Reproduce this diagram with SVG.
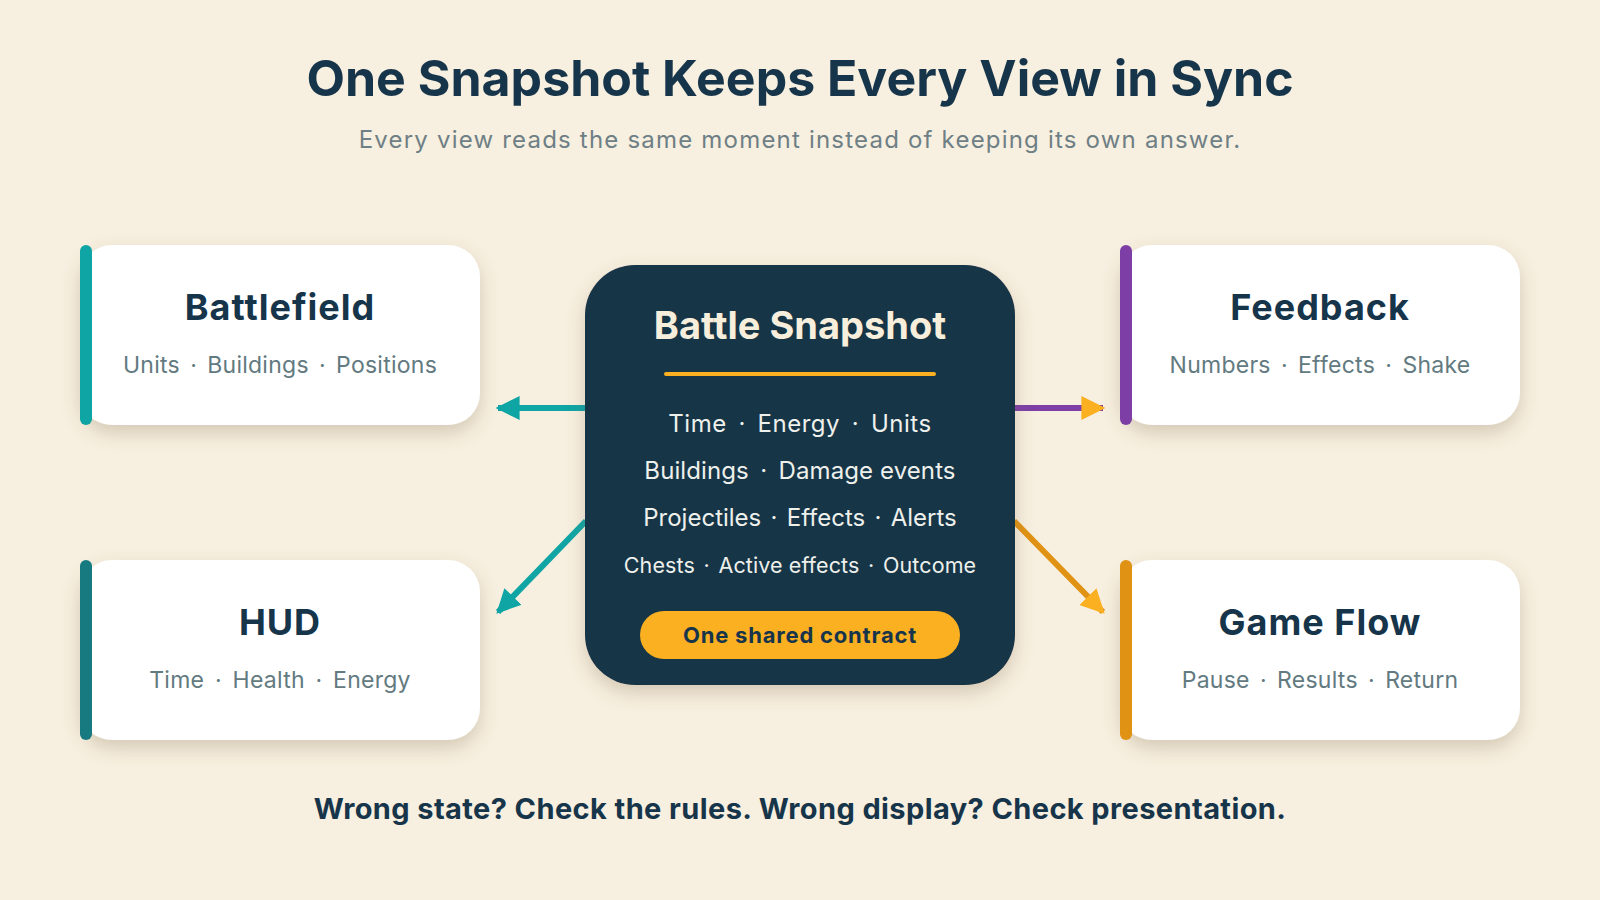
<svg xmlns="http://www.w3.org/2000/svg" width="1600" height="900" viewBox="0 0 1600 900">
<defs>
<style>
.t{font-family:Inter,"Noto Sans","Liberation Sans",sans-serif;}
.title{font-size:50px;font-weight:700;fill:#17354a;text-anchor:middle;}
.sub{font-size:24px;fill:#6e7f86;text-anchor:middle;letter-spacing:1.2px;}
.card{fill:#ffffff;}
.ct{font-size:36px;font-weight:700;fill:#17354a;text-anchor:middle;letter-spacing:1px;}
.cs{font-size:23px;fill:#627a80;text-anchor:middle;letter-spacing:0.25px;}
.mt{font-size:38px;font-weight:700;fill:#f7eedc;text-anchor:middle;}
.ml{font-size:24px;fill:#eef0ec;text-anchor:middle;}
.ml2{font-size:21.5px;fill:#eef0ec;text-anchor:middle;letter-spacing:0.1px;}
.pill{font-size:22px;font-weight:700;fill:#17354a;text-anchor:middle;letter-spacing:0.8px;}
.foot{font-size:29px;font-weight:700;fill:#17354a;text-anchor:middle;letter-spacing:0.4px;}
.con{fill:none;stroke-width:6;}
</style>
<filter id="sh" x="-20%" y="-20%" width="140%" height="150%">
<feDropShadow dx="0" dy="8" stdDeviation="9" flood-color="#7a6a4a" flood-opacity="0.28"/>
</filter>
<marker id="aT" viewBox="0 0 10 10" refX="9" refY="5" markerWidth="4" markerHeight="4" orient="auto" markerUnits="strokeWidth">
<path d="M0,0 L10,5 L0,10 z" fill="#0fa5a5"/>
</marker>
<marker id="aY" viewBox="0 0 10 10" refX="9" refY="5" markerWidth="4" markerHeight="4" orient="auto" markerUnits="strokeWidth">
<path d="M0,0 L10,5 L0,10 z" fill="#fbb022"/>
</marker>
</defs>
<rect width="1600" height="900" fill="#f7efdf"/>
<g id="header" class="t">
<text class="title" x="800" y="96">One Snapshot Keeps Every View in Sync</text>
<text class="sub" x="800" y="148">Every view reads the same moment instead of keeping its own answer.</text>
</g>
<g id="connectors">
<line class="con" x1="586" y1="408" x2="498" y2="408" stroke="#0fa5a5" marker-end="url(#aT)"/>
<line class="con" x1="586" y1="521" x2="498" y2="612" stroke="#0fa5a5" marker-end="url(#aT)"/>
<line class="con" x1="1014" y1="408" x2="1103" y2="408" stroke="#7d3fa6" marker-end="url(#aY)"/>
<line class="con" x1="1014" y1="521" x2="1103" y2="612" stroke="#e09214" marker-end="url(#aY)"/>
</g>
<g id="battlefield" class="t">
<rect class="card" x="80" y="245" width="400" height="180" rx="32" filter="url(#sh)"/>
<rect x="80" y="245" width="12" height="180" rx="6" fill="#0fa5a5"/>
<text class="ct" x="280" y="320">Battlefield</text>
<text class="cs" x="280" y="373">Units <tspan dx="3.5">·</tspan><tspan dx="3.5"> Buildings </tspan><tspan dx="3.5">·</tspan><tspan dx="3.5"> Positions</tspan></text>
</g>
<g id="hud" class="t">
<rect class="card" x="80" y="560" width="400" height="180" rx="32" filter="url(#sh)"/>
<rect x="80" y="560" width="12" height="180" rx="6" fill="#167a80"/>
<text class="ct" x="280" y="635">HUD</text>
<text class="cs" x="280" y="688">Time <tspan dx="4">·</tspan><tspan dx="4"> Health </tspan><tspan dx="4">·</tspan><tspan dx="4"> Energy</tspan></text>
</g>
<g id="feedback" class="t">
<rect class="card" x="1120" y="245" width="400" height="180" rx="32" filter="url(#sh)"/>
<rect x="1120" y="245" width="12" height="180" rx="6" fill="#7d3fa6"/>
<text class="ct" x="1320" y="320">Feedback</text>
<text class="cs" x="1320" y="373">Numbers <tspan dx="3.5">·</tspan><tspan dx="3.5"> Effects </tspan><tspan dx="3.5">·</tspan><tspan dx="3.5"> Shake</tspan></text>
</g>
<g id="gameflow" class="t">
<rect class="card" x="1120" y="560" width="400" height="180" rx="32" filter="url(#sh)"/>
<rect x="1120" y="560" width="12" height="180" rx="6" fill="#e09214"/>
<text class="ct" x="1320" y="635">Game Flow</text>
<text class="cs" x="1320" y="688">Pause <tspan dx="3.5">·</tspan><tspan dx="3.5"> Results </tspan><tspan dx="3.5">·</tspan><tspan dx="3.5"> Return</tspan></text>
</g>
<g id="snapshot" class="t">
<rect x="585" y="265" width="430" height="420" rx="50" fill="#183447" filter="url(#sh)"/>
<text class="mt" x="800" y="339">Battle Snapshot</text>
<line x1="666" y1="374" x2="934" y2="374" stroke="#fbb022" stroke-width="4" stroke-linecap="round"/>
<text class="ml" x="800" y="432" letter-spacing="0.5">Time <tspan dx="4.5">·</tspan><tspan dx="4.5"> Energy </tspan><tspan dx="4.5">·</tspan><tspan dx="4.5"> Units</tspan></text>
<text class="ml" x="800" y="479" letter-spacing="0.1">Buildings <tspan dx="4.5">·</tspan><tspan dx="4.5"> Damage events</tspan></text>
<text class="ml" x="800" y="526">Projectiles <tspan dx="2.5">·</tspan><tspan dx="2.5"> Effects </tspan><tspan dx="2.5">·</tspan><tspan dx="2.5"> Alerts</tspan></text>
<text class="ml2" x="800" y="573">Chests <tspan dx="2.5">·</tspan><tspan dx="2.5"> Active effects </tspan><tspan dx="2.5">·</tspan><tspan dx="2.5"> Outcome</tspan></text>
<rect x="640" y="611" width="320" height="48" rx="24" fill="#fbb022"/>
<text class="pill" x="800" y="643">One shared contract</text>
</g>
<g id="footer" class="t">
<text class="foot" x="800" y="819">Wrong state? Check the rules. Wrong display? Check presentation.</text>
</g>
</svg>
